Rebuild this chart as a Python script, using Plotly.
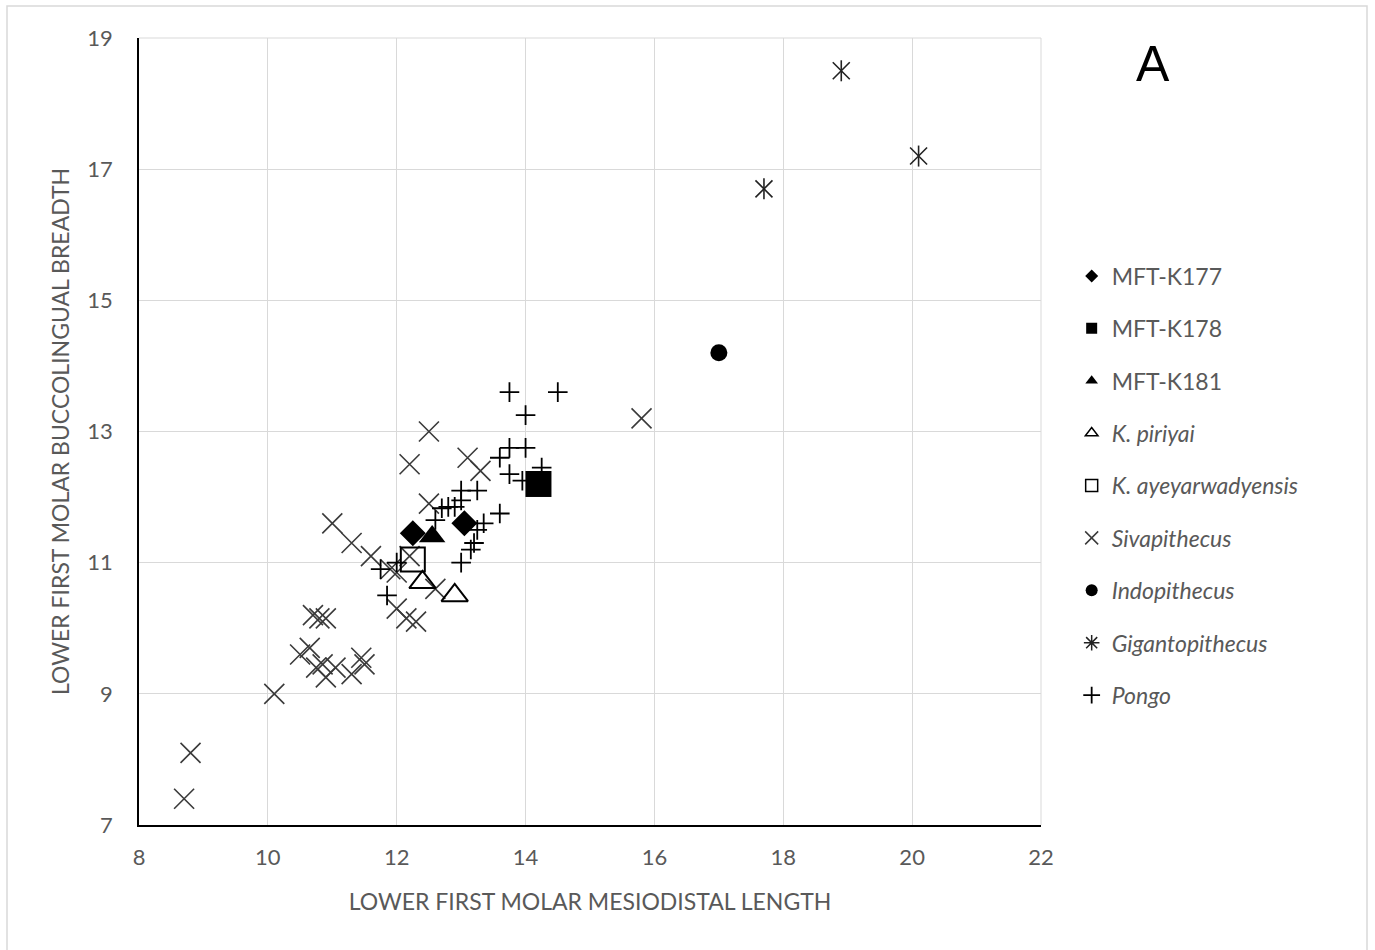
import plotly.graph_objects as go

# ---------------- data ----------------
k177_x = [12.25, 13.05]
k177_y = [11.45, 11.6]

k178_x = [14.2]
k178_y = [12.2]

k181_x = [12.55]
k181_y = [11.4]

piriyai_x = [12.4, 12.9]
piriyai_y = [10.7, 10.5]

ayey_x = [12.25]
ayey_y = [11.05]

siva_x = [8.7, 8.8, 10.1, 10.5, 10.65, 10.75, 10.85, 10.9, 11.05, 11.3, 11.45, 11.5,
          10.7, 10.8, 10.9, 11.0, 11.3, 11.6, 11.9, 12.0, 12.2, 12.0, 12.15, 12.3,
          12.6, 12.5, 12.2, 12.5, 13.1, 13.3, 15.8]
siva_y = [7.4, 8.1, 9.0, 9.6, 9.7, 9.4, 9.45, 9.25, 9.4, 9.3, 9.55, 9.45,
          10.2, 10.15, 10.15, 11.6, 11.3, 11.1, 10.9, 10.85, 11.1, 10.3, 10.15, 10.1,
          10.6, 11.9, 12.5, 13.0, 12.6, 12.4, 13.2]

indo_x = [17.0]
indo_y = [14.2]

giga_x = [18.9, 17.7, 20.1]
giga_y = [18.5, 16.7, 17.2]

pongo_x = [13.75, 14.5, 14.0, 13.75, 14.0, 13.6, 14.25, 13.75, 13.95, 13.25, 13.0,
           13.0, 12.8, 12.9, 13.6, 13.35, 13.25, 13.2, 12.6, 13.0, 12.0, 11.75, 11.85,
           13.15, 12.7]
pongo_y = [13.6, 13.6, 13.25, 12.75, 12.75, 12.6, 12.45, 12.35, 12.25, 12.1, 12.1,
           11.95, 11.85, 11.85, 11.75, 11.6, 11.5, 11.3, 11.65, 11.0, 11.0, 10.9, 10.5,
           11.2, 11.83]

x_ticks = [8, 10, 12, 14, 16, 18, 20, 22]
y_ticks = [7, 9, 11, 13, 15, 17, 19]

# ---------------- figure ----------------
fig = go.Figure()

GRAY_X = "#3a3a3a"
DARK = "#222222"


def open_marker(symbol, size, color, width):
    return dict(symbol=symbol, size=size, color=color, line=dict(color=color, width=width))


# data traces (no legend)
fig.add_trace(go.Scatter(x=siva_x, y=siva_y, mode="markers", showlegend=False,
                         marker=open_marker("x-thin-open", 20, GRAY_X, 1.6)))
fig.add_trace(go.Scatter(x=pongo_x, y=pongo_y, mode="markers", showlegend=False,
                         marker=open_marker("cross-thin-open", 14, "black", 1.8)))
fig.add_trace(go.Scatter(x=giga_x, y=giga_y, mode="markers", showlegend=False,
                         marker=open_marker("x-thin-open", 17, DARK, 1.6)))
fig.add_trace(go.Scatter(x=giga_x, y=giga_y, mode="markers", showlegend=False,
                         marker=open_marker("line-ns-open", 15, DARK, 1.6)))
fig.add_trace(go.Scatter(x=indo_x, y=indo_y, mode="markers", showlegend=False,
                         marker=dict(symbol="circle", size=17, color="black")))
fig.add_trace(go.Scatter(x=piriyai_x, y=piriyai_y, mode="markers", showlegend=False,
                         marker=open_marker("triangle-up-open", 23, "black", 2)))
fig.add_trace(go.Scatter(x=ayey_x, y=ayey_y, mode="markers", showlegend=False,
                         marker=open_marker("square-open", 24, "black", 2)))
fig.add_trace(go.Scatter(x=k181_x, y=k181_y, mode="markers", showlegend=False,
                         marker=dict(symbol="triangle-up", size=23, color="black")))
fig.add_trace(go.Scatter(x=k177_x, y=k177_y, mode="markers", showlegend=False,
                         marker=dict(symbol="diamond", size=20, color="black")))
fig.add_trace(go.Scatter(x=k178_x, y=k178_y, mode="markers", showlegend=False,
                         marker=dict(symbol="square", size=26, color="black")))

# legend-only traces (small markers)
legend_items = [
    ("MFT-K177", dict(symbol="diamond", size=10, color="black")),
    ("MFT-K178", dict(symbol="square", size=11, color="black")),
    ("MFT-K181", dict(symbol="triangle-up", size=11, color="black")),
    ("<i>K. piriyai</i>", open_marker("triangle-up-open", 11, "black", 1.5)),
    ("<i>K. ayeyarwadyensis</i>", open_marker("square-open", 12, "black", 1.5)),
    ("<i>Sivapithecus</i>", open_marker("x-thin-open", 13, GRAY_X, 1.5)),
    ("<i>Indopithecus</i>", dict(symbol="circle", size=12, color="black")),
    ("<i>Gigantopithecus</i>", open_marker("asterisk-open", 13, DARK, 1.5)),
    ("<i>Pongo</i>", open_marker("cross-thin-open", 12, "black", 1.8)),
]
for i, (name, mk) in enumerate(legend_items):
    fig.add_trace(go.Scatter(x=[None], y=[None], mode="markers", name=name,
                             legendgroup=f"g{i}", marker=mk))

FONT = "Lato, 'Open Sans', sans-serif"
TICK_COLOR = "#595959"
GRID = "#d9d9d9"

fig.update_layout(
    width=1375, height=950,
    margin=dict(l=139, r=334, t=38, b=125),
    paper_bgcolor="white", plot_bgcolor="white",
    font=dict(family=FONT, color=TICK_COLOR),
    xaxis=dict(range=[8, 22], tickvals=x_ticks, showgrid=True, gridcolor=GRID, gridwidth=1,
               showline=True, linecolor="black", linewidth=1.5, zeroline=False,
               tickfont=dict(size=22, color=TICK_COLOR), ticks="", ticklabelstandoff=12,
               title=dict(text="LOWER FIRST MOLAR MESIODISTAL LENGTH", font=dict(size=23, color=TICK_COLOR),
                          standoff=25),
               automargin=False),
    yaxis=dict(range=[7, 19], tickvals=y_ticks, showgrid=True, gridcolor=GRID, gridwidth=1,
               showline=True, linecolor="black", linewidth=1.5, zeroline=False,
               tickfont=dict(size=22, color=TICK_COLOR), ticks="", ticklabelstandoff=20,
               title=dict(text="LOWER FIRST MOLAR BUCCOLINGUAL BREADTH", font=dict(size=23, color=TICK_COLOR),
                          standoff=11),
               automargin=False),
    legend=dict(x=1.034, y=0.725, xanchor="left", yanchor="top",
                font=dict(size=23, color=TICK_COLOR, family=FONT),
                tracegroupgap=19.5, itemwidth=30, bgcolor="rgba(0,0,0,0)"),
    showlegend=True,
)

# top and right gridline edges of the plot area
fig.add_shape(type="line", xref="paper", yref="paper", x0=0, x1=1, y0=1, y1=1,
              line=dict(color=GRID, width=1), layer="below")
fig.add_shape(type="line", xref="paper", yref="paper", x0=1, x1=1, y0=0, y1=1,
              line=dict(color=GRID, width=1), layer="below")

# panel letter
fig.add_annotation(text="A", xref="paper", yref="paper",
                   x=(1153 - 139) / 902, y=(825 - 64) / 787,
                   xanchor="center", yanchor="middle", showarrow=False,
                   font=dict(size=50, color="black", family="Liberation Sans, Arial, sans-serif"))

# outer chart border
fig.add_shape(type="rect", xref="paper", yref="paper",
              x0=(7 - 139) / 902, x1=(1367 - 139) / 902,
              y0=(825 - 960) / 787, y1=(825 - 6) / 787,
              line=dict(color=GRID, width=1.5), fillcolor="rgba(0,0,0,0)", layer="below")

fig.write_html("out.html", config={"displayModeBar": False},
               post_script="document.body.style.margin='0px';")
